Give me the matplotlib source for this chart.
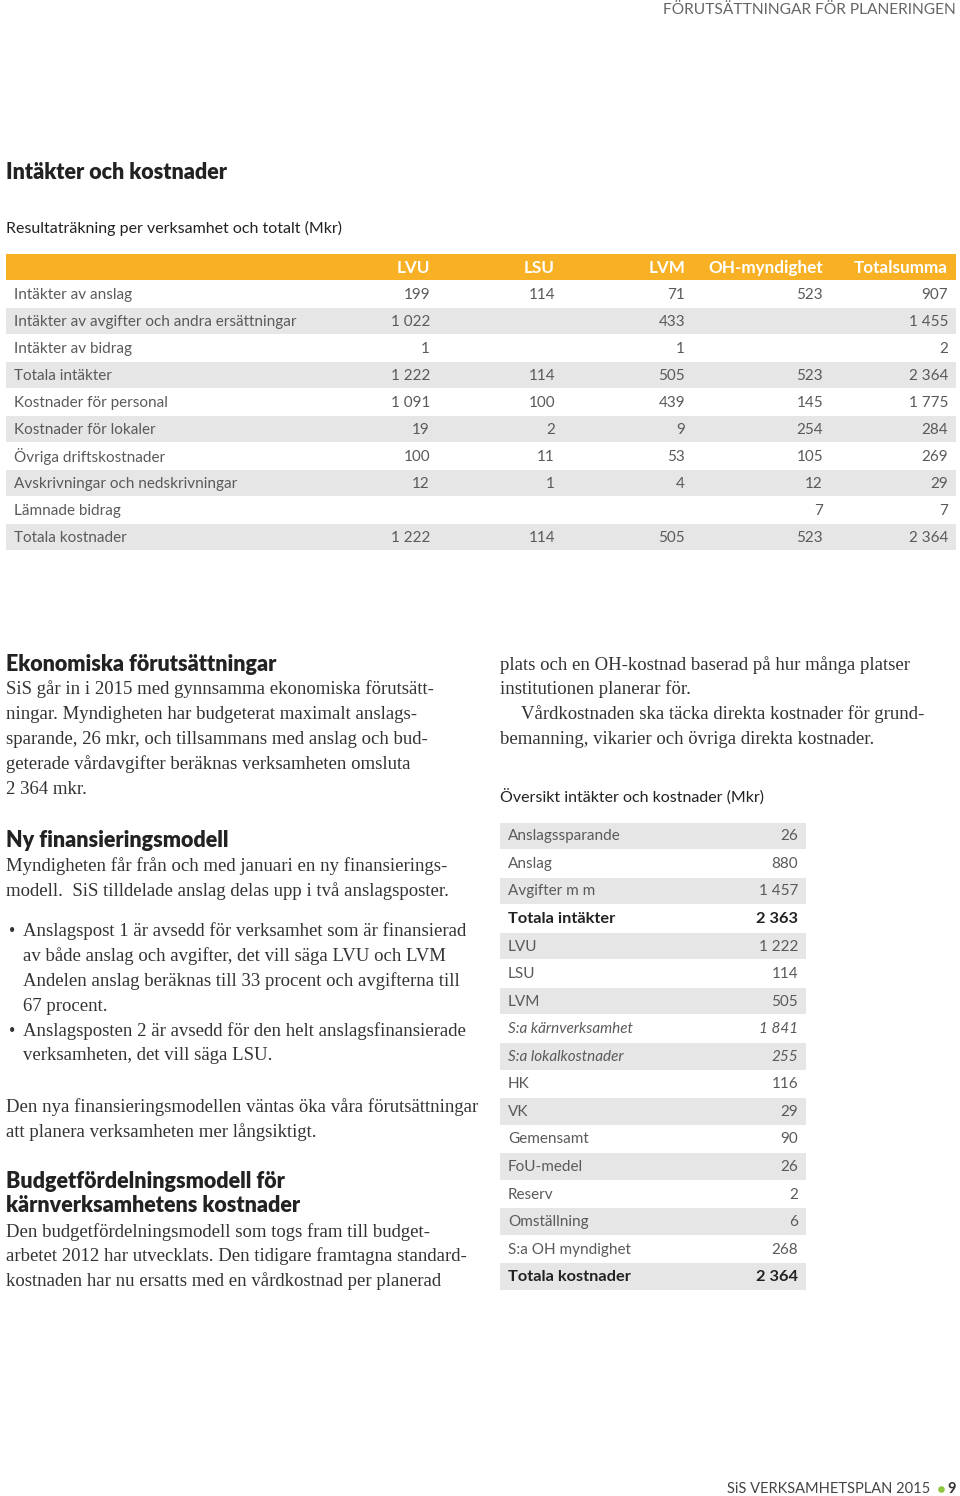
import matplotlib
matplotlib.use("Agg")
import matplotlib.pyplot as plt
from matplotlib.patches import Rectangle

# ---- data: top table ----
columns = ["LVU", "LSU", "LVM", "OH-myndighet", "Totalsumma"]
row_labels = [
    "Intäkter av anslag",
    "Intäkter av avgifter och andra ersättningar",
    "Intäkter av bidrag",
    "Totala intäkter",
    "Kostnader för personal",
    "Kostnader för lokaler",
    "Övriga driftskostnader",
    "Avskrivningar och nedskrivningar",
    "Lämnade bidrag",
    "Totala kostnader",
]
lvu = ["199", "1 022", "1", "1 222", "1 091", "19", "100", "12", "", "1 222"]
lsu = ["114", "", "", "114", "100", "2", "11", "1", "", "114"]
lvm = ["71", "433", "1", "505", "439", "9", "53", "4", "", "505"]
oh = ["523", "", "", "523", "145", "254", "105", "12", "7", "523"]
total = ["907", "1 455", "2", "2 364", "1 775", "284", "269", "29", "7", "2 364"]

# ---- data: overview table ----
ov_labels = ["Anslagssparande", "Anslag", "Avgifter m m", "Totala intäkter",
             "LVU", "LSU", "LVM", "S:a kärnverksamhet", "S:a lokalkostnader",
             "HK", "VK", "Gemensamt", "FoU-medel", "Reserv", "Omställning",
             "S:a OH myndighet", "Totala kostnader"]
ov_values = ["26", "880", "1 457", "2 363", "1 222", "114", "505", "1 841",
             "255", "116", "29", "90", "26", "2", "6", "268", "2 364"]
ov_bold = ["Totala intäkter", "Totala kostnader"]
ov_italic = ["S:a kärnverksamhet", "S:a lokalkostnader"]

ORANGE = "#F8B124"
GRAY = "#E6E6E6"
TXT = "#5a5a5a"
DARK = "#222222"
SANS = ["Lato", "DejaVu Sans"]
SERIF = ["Liberation Serif", "DejaVu Serif"]

fig = plt.figure(figsize=(9.6, 14.96), dpi=100)
ax = fig.add_axes([0, 0, 1, 1])
ax.set_xlim(0, 960)
ax.set_ylim(1496, 0)
ax.axis("off")

# page header / footer
ax.text(956, 10, "FÖRUTSÄTTNINGAR FÖR PLANERINGEN", ha="right", va="center",
        fontsize=11.2, family=SANS, color="#666666")
ax.text(930, 1489, "SiS VERKSAMHETSPLAN 2015", ha="right", va="center",
        fontsize=10.5, family=SANS, color="#444444")
ax.scatter([941], [1489], s=14, color="#8DC63F", zorder=3)
ax.text(956, 1489, "9", ha="right", va="center", fontsize=10.5,
        family=SANS, weight="bold", color="#333333")

# headings
ax.text(6, 172, "Intäkter och kostnader", ha="left", va="center",
        fontsize=15.5, family=SANS, weight="heavy", color=DARK)
ax.text(6, 228, "Resultaträkning per verksamhet och totalt (Mkr)", ha="left",
        va="center", fontsize=11.5, family=SANS, color=DARK)

# top table
t_left, t_right = 6, 956
rh = 27
head_y = 254
ax.add_patch(Rectangle((t_left, head_y), t_right - t_left, 26, color=ORANGE, lw=0))
col_right = [430, 555, 685, 823, 948]
for c, x in zip(columns, col_right):
    ax.text(x, head_y + 13.5, c, ha="right", va="center", fontsize=12.3,
            family=SANS, weight="bold", color="white")
series = [lvu, lsu, lvm, oh, total]
for i, lab in enumerate(row_labels):
    top = head_y + 27 + i * rh
    if i % 2 == 1:
        ax.add_patch(Rectangle((t_left, top), t_right - t_left, rh - 1,
                               color=GRAY, lw=0))
    yc = top + rh / 2
    ax.text(14, yc, lab, ha="left", va="center", fontsize=11,
            family=SANS, color=TXT)
    for vals, x in zip(series, col_right):
        ax.text(x, yc, vals[i], ha="right", va="center", fontsize=11,
                family=SANS, color=TXT)

# left column body
def body(x, y, lines, step=25):
    for k, line in enumerate(lines):
        ax.text(x, y + k * step, line, ha="left", va="center", fontsize=13.5,
                family=SERIF, color="#333333")

def heading(x, y, s):
    ax.text(x, y, s, ha="left", va="center", fontsize=15.5, family=SANS,
            weight="heavy", color=DARK)

heading(6, 664, "Ekonomiska förutsättningar")
body(6, 689, ["SiS går in i 2015 med gynnsamma ekonomiska förutsätt-",
              "ningar. Myndigheten har budgeterat maximalt anslags-",
              "sparande, 26 mkr, och tillsammans med anslag och bud-",
              "geterade vårdavgifter beräknas verksamheten omsluta",
              "2 364 mkr."])

heading(6, 840, "Ny finansieringsmodell")
body(6, 866, ["Myndigheten får från och med januari en ny finansierings-",
              "modell.  SiS tilldelade anslag delas upp i två anslagsposter."])

ax.text(12, 931, "•", ha="center", va="center", fontsize=13, family=SERIF, color="#333333")
body(23, 931, ["Anslagspost 1 är avsedd för verksamhet som är finansierad",
               "av både anslag och avgifter, det vill säga LVU och LVM",
               "Andelen anslag beräknas till 33 procent och avgifterna till",
               "67 procent."])
ax.text(12, 1031, "•", ha="center", va="center", fontsize=13, family=SERIF, color="#333333")
body(23, 1031, ["Anslagsposten 2 är avsedd för den helt anslagsfinansierade",
                "verksamheten, det vill säga LSU."])

body(6, 1107, ["Den nya finansieringsmodellen väntas öka våra förutsättningar",
               "att planera verksamheten mer långsiktigt."])

heading(6, 1181, "Budgetfördelningsmodell för")
heading(6, 1205, "kärnverksamhetens kostnader")
body(6, 1232, ["Den budgetfördelningsmodell som togs fram till budget-",
               "arbetet 2012 har utvecklats. Den tidigare framtagna standard-",
               "kostnaden har nu ersatts med en vårdkostnad per planerad"], step=24.5)

# right column
body(500, 665, ["plats och en OH-kostnad baserad på hur många platser",
                "institutionen planerar för."], step=24.5)
body(521, 714, ["Vårdkostnaden ska täcka direkta kostnader för grund-"])
body(500, 739, ["bemanning, vikarier och övriga direkta kostnader."])
ax.text(500, 797, "Översikt intäkter och kostnader (Mkr)", ha="left", va="center",
        fontsize=11.5, family=SANS, color=DARK)

o_left, o_right = 500, 806
orh = 27.56
o_top = 822.5
for i, (lab, val) in enumerate(zip(ov_labels, ov_values)):
    top = o_top + i * orh
    if i % 2 == 0:
        ax.add_patch(Rectangle((o_left, top), o_right - o_left, orh - 1,
                               color=GRAY, lw=0))
    yc = top + orh / 2
    bold = lab in ov_bold
    style = "italic" if lab in ov_italic else "normal"
    w = "bold" if bold else "normal"
    col = DARK if bold else TXT
    fs = 11.8 if bold else 11
    ax.text(508, yc, lab, ha="left", va="center", fontsize=fs, family=SANS,
            weight=w, style=style, color=col)
    ax.text(798, yc, val, ha="right", va="center", fontsize=fs, family=SANS,
            weight=w, style=style, color=col)

fig.savefig("out.png", dpi=100, facecolor="white")
